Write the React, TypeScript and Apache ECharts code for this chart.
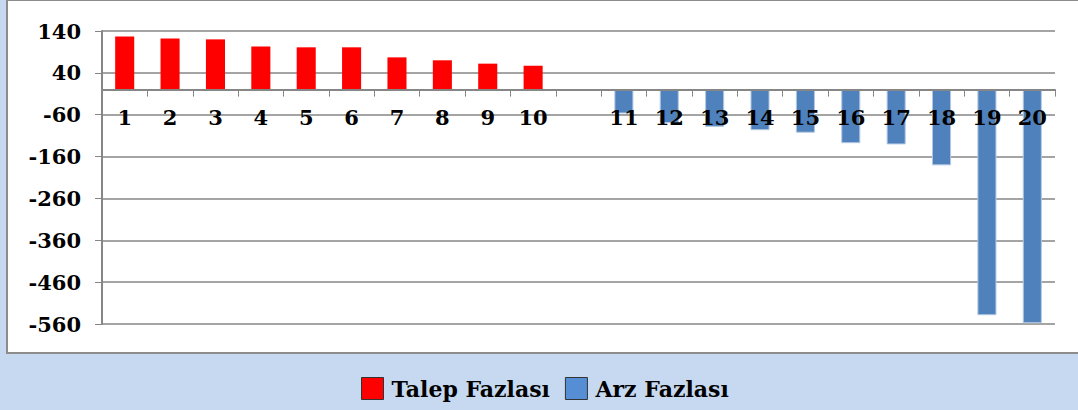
import React, { useEffect, useRef } from "react";
import * as echarts from "echarts";

const categories = ["1", "2", "3", "4", "5", "6", "7", "8", "9", "10", "", "11", "12", "13", "14", "15", "16", "17", "18", "19", "20"];
const talepFazlasi = [127, 122, 120, 103, 101, 101, 77, 70, 62, 57, null, null, null, null, null, null, null, null, null, null, null];
const arzFazlasi = [null, null, null, null, null, null, null, null, null, null, null, -57, -80, -89, -97, -103, -128, -131, -181, -539, -558];
const yTicks = [-560, -460, -360, -260, -160, -60, 40, 140];

const FONT = "DejaVu Serif";
const Y_MIN = -560;
const Y_MAX = 140;
const GRID_TOP = 31;
const GRID_BOTTOM = 86;
const HEIGHT = 410;

export default function App() {
  const ref = useRef<HTMLDivElement>(null);
  useEffect(() => {
    if (!ref.current) return;
    const chart = echarts.init(ref.current, null, { renderer: "svg" });
    const plotH = HEIGHT - GRID_TOP - GRID_BOTTOM;
    const zeroFromBottom = (0 - Y_MIN) / (Y_MAX - Y_MIN) * plotH;
    chart.setOption({
      animation: false,
      backgroundColor: "#c6d9f0",
      graphic: [
        {
          type: "rect",
          z: -10,
          silent: true,
          shape: { x: 7, y: 0, width: 1080, height: 353 },
          style: { fill: "#ffffff", stroke: "#8c8c8c", lineWidth: 2 },
        },
      ],
      grid: { left: 102, right: 23, top: GRID_TOP, bottom: GRID_BOTTOM, containLabel: false },
      legend: {
        left: 361,
        top: 377,
        padding: 0,
        itemWidth: 22,
        itemHeight: 22,
        itemGap: 15,
        icon: "rect",
        textStyle: { fontFamily: FONT, fontWeight: "bold", fontSize: 22, color: "#000", padding: [0, 0, 0, 3] },
        data: [
          { name: "Talep Fazlası", itemStyle: { color: "#ff0000", borderColor: "#333", borderWidth: 1 } },
          { name: "Arz Fazlası", itemStyle: { color: "#558ed5", borderColor: "#333", borderWidth: 1 } },
        ],
      },
      xAxis: {
        type: "category",
        data: categories,
        position: "bottom",
        offset: -zeroFromBottom,
        z: 10,
        axisLine: { onZero: false, lineStyle: { color: "#868686", width: 2 } },
        axisTick: { show: true, length: 7, lineStyle: { color: "#868686", width: 1 } },
        axisLabel: {
          interval: 0,
          margin: 17,
          fontFamily: FONT,
          fontWeight: "bold",
          fontSize: 21,
          color: "#000",
        },
        splitLine: { show: false },
      },
      yAxis: {
        type: "value",
        min: Y_MIN,
        max: Y_MAX,
        axisLine: { show: true, lineStyle: { color: "#868686", width: 2 } },
        axisTick: { show: true, length: 7, customValues: yTicks, lineStyle: { color: "#868686" } },
        axisLabel: {
          customValues: yTicks,
          margin: 21,
          fontFamily: FONT,
          fontWeight: "bold",
          fontSize: 21,
          color: "#000",
        },
        splitLine: { show: true, lineStyle: { color: "#868686", width: 1.5 } },
      },
      series: [
        {
          name: "Talep Fazlası",
          type: "bar",
          stack: "all",
          barWidth: "42%",
          data: talepFazlasi,
          itemStyle: { color: "#ff0000" },
        },
        {
          name: "Arz Fazlası",
          type: "bar",
          stack: "all",
          barWidth: "42%",
          data: arzFazlasi,
          itemStyle: { color: "#4f81bd", borderColor: "#b3c8e2", borderWidth: 1 },
        },
      ],
    });
    return () => chart.dispose();
  }, []);
  return (
    <div
      ref={ref}
      style={{ position: "fixed", left: 0, top: 0, width: 1078, height: 410 }}
    />
  );
}
